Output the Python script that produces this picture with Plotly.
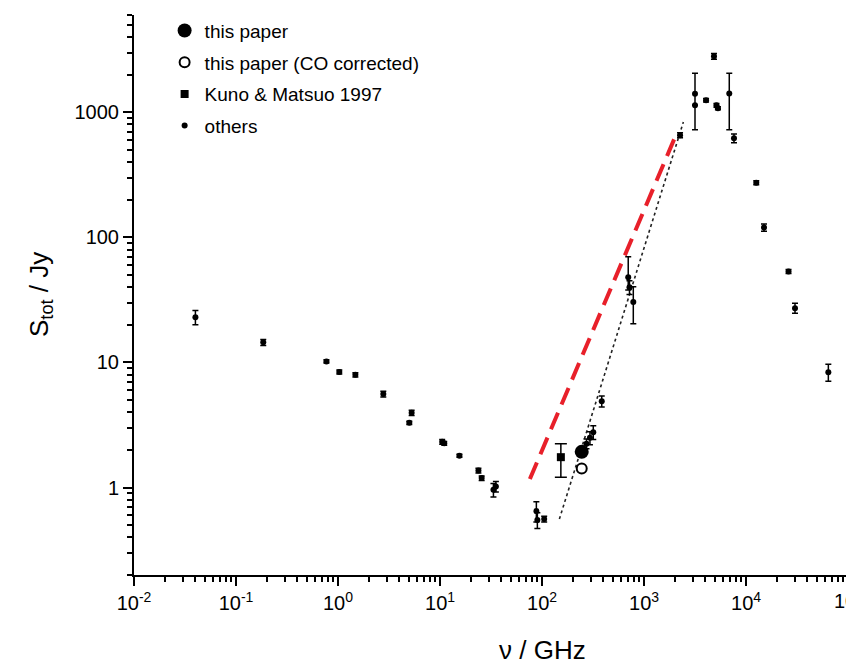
import plotly.graph_objects as go

# ---------------- data ----------------
others_x = [0.040, 0.185, 0.77, 1.03, 1.48, 2.78, 5.0, 5.27, 10.5, 11.0, 15.5, 23.8, 25.6, 33.4, 35.3,
            88, 90, 105, 273, 295, 318, 385, 700, 720, 785,
            2255, 3160, 3160, 4055, 4850, 5130, 5300, 6850, 7620, 12600, 15000, 26100, 30200, 64100]
others_y = [23.0, 14.5, 10.2, 8.4, 7.97, 5.6, 3.29, 3.96, 2.32, 2.26, 1.80, 1.37, 1.19, 0.96, 1.02,
            0.65, 0.55, 0.56, 2.24, 2.5, 2.77, 4.9, 48, 40, 30.4,
            655, 1410, 1137, 1248, 2805, 1137, 1080, 1412, 620, 274, 120, 53.5, 27.2, 8.37]
others_err_plus = [3, 0.8, 0.3, 0.3, 0.3, 0.3, 0.1, 0.2, 0.1, 0.08, 0.05, 0.06, 0.05, 0.12, 0.1,
                   0.12, 0.08, 0.03, 0.2, 0.3, 0.35, 0.5, 22, 5, 10,
                   30, 640, 0, 40, 150, 40, 30, 640, 50, 10, 8, 2, 2.5, 1.3]
others_err_minus = [3, 0.8, 0.3, 0.3, 0.3, 0.3, 0.1, 0.2, 0.1, 0.08, 0.05, 0.06, 0.05, 0.12, 0.1,
                    0.12, 0.08, 0.03, 0.2, 0.3, 0.35, 0.5, 10, 5, 10,
                    30, 685, 0, 40, 150, 40, 30, 685, 50, 10, 8, 2, 2.5, 1.3]

paper_x = [245]
paper_y = [1.93]
paper_co_x = [245]
paper_co_y = [1.42]
kuno_x = [153]
kuno_y = [1.75]
kuno_err_plus = [0.49]
kuno_err_minus = [0.54]

red_line_x = [76, 2015]
red_line_y = [1.17, 634]
dot_line_x = [148, 2430]
dot_line_y = [0.56, 835]

x_tickvals = [0.01, 0.1, 1, 10, 100, 1000, 10000]
x_ticktext = ["10<sup>-2</sup>", "10<sup>-1</sup>", "10<sup>0</sup>", "10<sup>1</sup>",
              "10<sup>2</sup>", "10<sup>3</sup>", "10<sup>4</sup>"]
y_tickvals = [1, 10, 100, 1000]
y_ticktext = ["1", "10", "100", "1000"]

FONT = "Liberation Sans, Arial, sans-serif"

fig = go.Figure()

fig.add_trace(go.Scatter(x=red_line_x, y=red_line_y, mode="lines", showlegend=False,
                         line=dict(color="#e8202a", width=4, dash="18px,9px")))
fig.add_trace(go.Scatter(x=dot_line_x, y=dot_line_y, mode="lines", showlegend=False,
                         line=dict(color="#222222", width=1.6, dash="dot")))

fig.add_trace(go.Scatter(x=paper_x, y=paper_y, mode="markers", name="this paper", legendgroup="a",
                         marker=dict(symbol="circle", size=14, color="black")))
fig.add_trace(go.Scatter(x=paper_co_x, y=paper_co_y, mode="markers", name="this paper (CO corrected)",
                         legendgroup="b",
                         marker=dict(symbol="circle-open", size=10, color="black", line=dict(width=2))))
fig.add_trace(go.Scatter(x=kuno_x, y=kuno_y, mode="markers", name="Kuno &amp; Matsuo 1997", legendgroup="c",
                         marker=dict(symbol="square", size=8, color="black"),
                         error_y=dict(type="data", array=kuno_err_plus, arrayminus=kuno_err_minus,
                                      color="black", thickness=1.5, width=6)))
fig.add_trace(go.Scatter(x=others_x, y=others_y, mode="markers", name="others", legendgroup="d",
                         marker=dict(symbol="circle", size=6, color="black"),
                         error_y=dict(type="data", array=others_err_plus, arrayminus=others_err_minus,
                                      color="black", thickness=1.5, width=3)))

fig.update_layout(
    width=846, height=668,
    margin=dict(l=134, r=0, t=15, b=93),
    plot_bgcolor="white", paper_bgcolor="white",
    font=dict(family=FONT, color="black", size=20),
    showlegend=True,
    legend=dict(x=0.043, y=1.006, xanchor="left", yanchor="top", bgcolor="rgba(0,0,0,0)",
                font=dict(size=19, family=FONT), itemwidth=30, tracegroupgap=4),
)

fig.update_xaxes(
    type="log", range=[-2, 4.98],
    tickvals=x_tickvals, ticktext=x_ticktext,
    showgrid=False, zeroline=False,
    showline=True, linecolor="black", linewidth=2,
    ticks="outside", ticklen=9, tickwidth=2, tickcolor="black",
    tickfont=dict(size=20, family=FONT),
    minor=dict(dtick="D1", ticks="outside", ticklen=5, tickwidth=1.5, tickcolor="black", showgrid=False),
)
fig.update_yaxes(
    type="log", range=[-0.699, 3.778],
    tickvals=y_tickvals, ticktext=y_ticktext,
    showgrid=False, zeroline=False,
    showline=True, linecolor="black", linewidth=2,
    ticks="outside", ticklen=9, tickwidth=2, tickcolor="black",
    tickfont=dict(size=20, family=FONT),
    minor=dict(dtick="D1", ticks="outside", ticklen=5, tickwidth=1.5, tickcolor="black", showgrid=False),
)

# cut-off 10^5 tick label at the right edge (axis continues beyond the crop, as in the reference)
fig.add_annotation(x=1.0045, y=0, xref="paper", yref="paper", xanchor="center", yanchor="top", yshift=-10,
                   text="10<sup>5</sup>", showarrow=False, font=dict(size=20, family=FONT))
# axis titles
fig.add_annotation(x=2, y=-0.134, xref="x", yref="paper", xanchor="center", yanchor="middle",
                   text="ν / GHz", showarrow=False, font=dict(size=26, family=FONT))
fig.add_annotation(x=-0.132, y=0.5, xref="paper", yref="paper", xanchor="center", yanchor="middle",
                   text="S<sub>tot</sub> / Jy", textangle=-90, showarrow=False,
                   font=dict(size=26, family=FONT))

fig.write_html("out.html")
